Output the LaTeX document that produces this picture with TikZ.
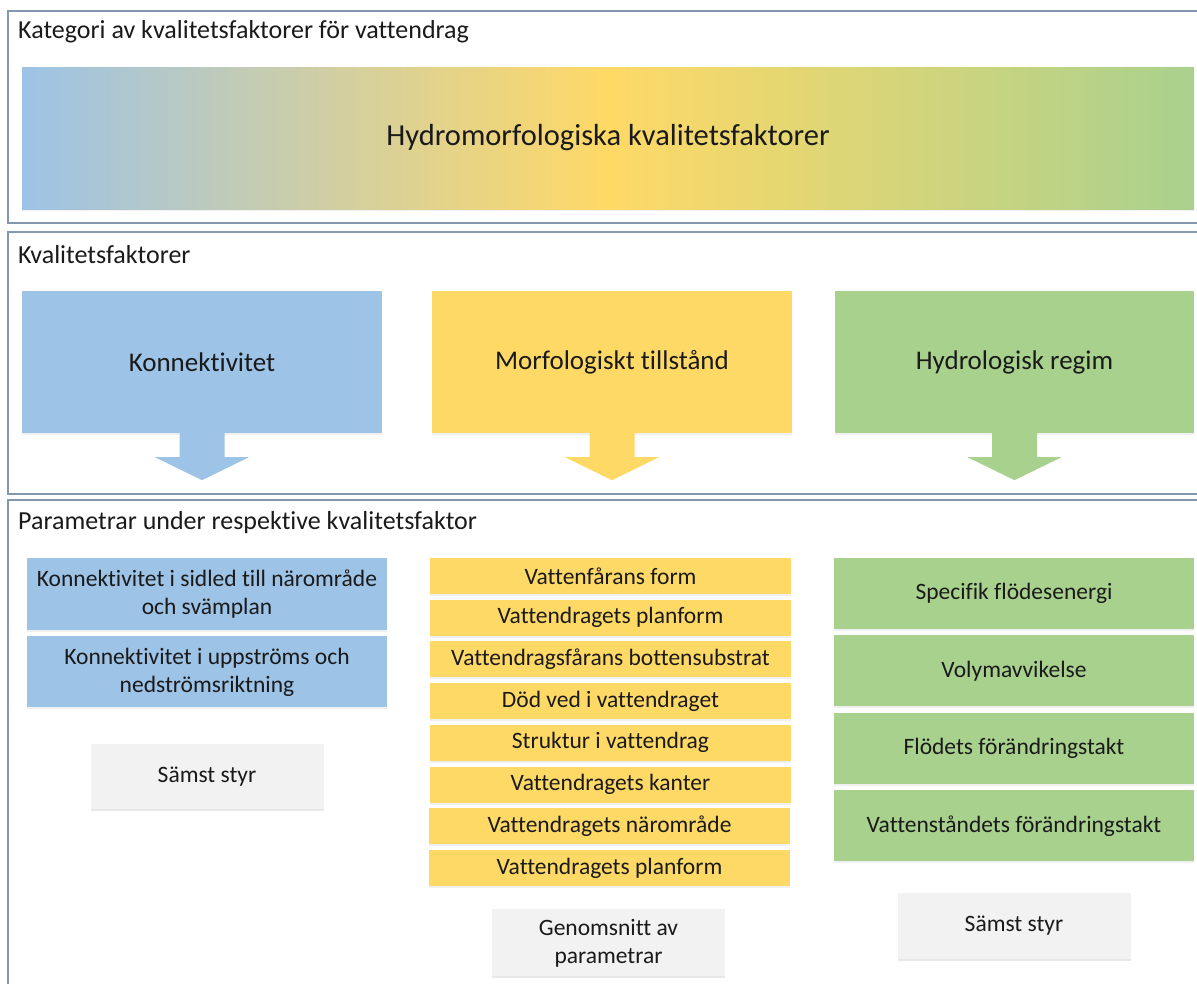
\documentclass[tikz,border=0pt]{standalone}
\usepackage{fontspec}
\setmainfont{Carlito}[Ligatures={NoCommon}]
\usetikzlibrary{positioning, shadows}
\definecolor{kblau}{HTML}{9DC3E6}
\definecolor{kgelb}{HTML}{FFD966}
\definecolor{kgruen}{HTML}{A9D18E}
\definecolor{kgrau}{HTML}{F2F2F2}
\definecolor{kram}{HTML}{8497B0}
\definecolor{ktext}{HTML}{1A1A1A}
\begin{document}
\begin{tikzpicture}[
    x=1pt, y=-1pt,
    panel/.style={draw=kram, line width=1.6pt},
    paneltitle/.style={anchor=west, inner sep=0pt, text=ktext, font=\fontsize{26}{30}\selectfont},
    faktor/.style={rectangle, inner sep=0pt, minimum width=360pt, minimum height=142pt, text=ktext, font=\fontsize{27}{32}\selectfont,
        drop shadow={opacity=0.12, shadow xshift=0pt, shadow yshift=-2pt}},
    param/.style={rectangle, inner sep=0pt, minimum width=360pt, align=center, text=ktext, font=\fontsize{23.5}{28}\selectfont,
        drop shadow={opacity=0.12, shadow xshift=0pt, shadow yshift=-2pt}},
    regel/.style={rectangle, fill=kgrau, inner sep=0pt, minimum width=233pt, align=center, text=ktext, font=\fontsize{23.5}{28}\selectfont,
        drop shadow={opacity=0.18, shadow xshift=0pt, shadow yshift=-2pt}}
]
    \useasboundingbox (0,0) rectangle (1197,983);
    \clip (0,0) rectangle (1197,983);

    \draw[panel] (8,11) rectangle (1215,223);
    \draw[panel] (8,232) rectangle (1215,494);
    \draw[panel] (8,500) rectangle (1215,1010);

    \node[paneltitle] (kat) at (18,32) {Kategori av kvalitetsfaktorer för vattendrag};
    \node[faktor, minimum width=1172pt, font=\fontsize{30.5}{36}\selectfont,
        left color=kblau, right color=kgruen, middle color=kgelb] (hymo) at (608,138) {Hydromorfologiska kvalitetsfaktorer};

    \node[paneltitle] (kvf) at (18,255) {Kvalitetsfaktorer};
    \node[faktor, fill=kblau] (kon) at (202,362) {Konnektivitet};
    \node[faktor, fill=kgelb] (mor) at (612,362) {Morfologiskt tillstånd};
    \node[faktor, fill=kgruen, minimum width=359pt] (hyd) at (1014.5,362) {Hydrologisk regim};

    \foreach \fak/\col in {kon/kblau, mor/kgelb, hyd/kgruen}
        \fill[\col] (\fak.south) ++(-22.5,0) -- ++(0,24) -- ++(-24.5,0) -- ++(47,23) -- ++(47,-23) -- ++(-24.5,0) -- ++(0,-24) -- cycle;

    \node[paneltitle] (par) at (18,523) {Parametrar under respektive kvalitetsfaktor};

    \node[param, fill=kblau, minimum height=72pt] (konA) at (207,594) {Konnektivitet i sidled till närområde\\och svämplan};
    \node[param, fill=kblau, minimum height=71pt, below=6pt of konA] (konB) {Konnektivitet i uppströms och\\nedströmsriktning};
    \node[regel, minimum height=65pt, below=36pt of konB] (konR) {Sämst styr};

    \node[param, fill=kgelb, minimum width=361pt, minimum height=36pt] (mor1) at (610.5,576) {Vattenfårans form};
    \node[param, fill=kgelb, minimum width=361pt, minimum height=36pt, below=5.3pt of mor1] (mor2) {Vattendragets planform};
    \node[param, fill=kgelb, minimum width=361pt, minimum height=36pt, below=5.3pt of mor2] (mor3) {Vattendragsfårans bottensubstrat};
    \node[param, fill=kgelb, minimum width=361pt, minimum height=36pt, below=5.3pt of mor3] (mor4) {Död ved i vattendraget};
    \node[param, fill=kgelb, minimum width=361pt, minimum height=36pt, below=5.3pt of mor4] (mor5) {Struktur i vattendrag};
    \node[param, fill=kgelb, minimum width=361pt, minimum height=36pt, below=5.3pt of mor5] (mor6) {Vattendragets kanter};
    \node[param, fill=kgelb, minimum width=361pt, minimum height=36pt, below=5.3pt of mor6, xshift=-1pt] (mor7) {Vattendragets närområde};
    \node[param, fill=kgelb, minimum width=361pt, minimum height=36pt, below=5.3pt of mor7] (mor8) {Vattendragets planform};
    \node[regel, minimum height=67pt, below=23pt of mor8, xshift=-1pt] (morR) {Genomsnitt av\\parametrar};

    \node[param, fill=kgruen, minimum height=71pt] (hyd1) at (1014,593.5) {Specifik flödesenergi};
    \node[param, fill=kgruen, minimum height=71pt, below=6pt of hyd1] (hyd2) {Volymavvikelse};
    \node[param, fill=kgruen, minimum height=71pt, below=6pt of hyd2] (hyd3) {Flödets förändringstakt};
    \node[param, fill=kgruen, minimum height=71pt, below=6pt of hyd3] (hyd4) {Vattenståndets förändringstakt};
    \node[regel, minimum height=66pt, below=31pt of hyd4] (hydR) {Sämst styr};
\end{tikzpicture}
\end{document}
